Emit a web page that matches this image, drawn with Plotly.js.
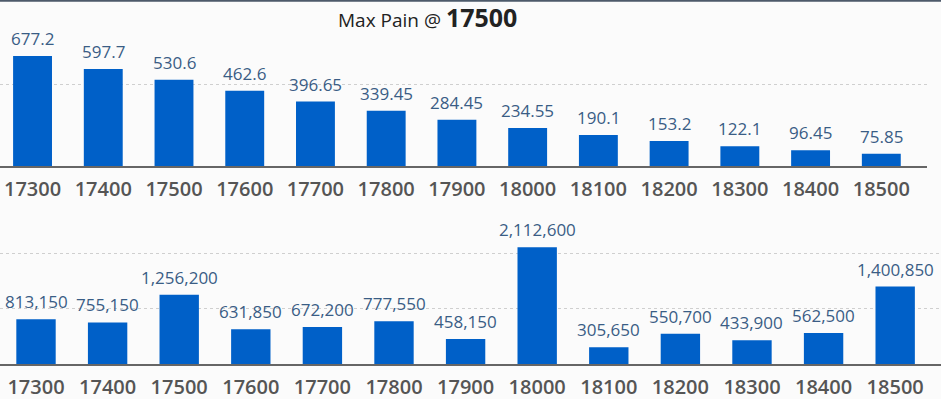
<!DOCTYPE html>
<html>
<head>
<meta charset="utf-8">
<script src="https://cdn.plot.ly/plotly-3.0.1.min.js"></script>
<style>
html,body{margin:0;padding:0;background:#fbfbfb;}
#chart{width:941px;height:399px;}
</style>
</head>
<body>
<div id="chart"></div>
<script>
const strikes = ["17300","17400","17500","17600","17700","17800","17900","18000","18100","18200","18300","18400","18500"];
const painValues = [677.2, 597.7, 530.6, 462.6, 396.65, 339.45, 284.45, 234.55, 190.1, 153.2, 122.1, 96.45, 75.85];
const painLabels = ["677.2","597.7","530.6","462.6","396.65","339.45","284.45","234.55","190.1","153.2","122.1","96.45","75.85"];
const oiValues = [813150, 755150, 1256200, 631850, 672200, 777550, 458150, 2112600, 305650, 550700, 433900, 562500, 1400850];
const maxPainStrike = "17500";

const barColor = '#0060c8';
const valueColor = '#3a5d85';
const tickColor = '#555555';
const fontFam = '"Open Sans", "Noto Sans", sans-serif';

function fmt(v){ return v.toLocaleString('en-US'); }

const traces = [
  {type:'bar', x: strikes, y: painValues, xaxis:'x', yaxis:'y', marker:{color:barColor}, hoverinfo:'none'},
  {type:'bar', x: strikes, y: oiValues, xaxis:'x2', yaxis:'y2', marker:{color:barColor}, hoverinfo:'none'}
];

const annotations = [];
strikes.forEach((s,i)=>{
  annotations.push({x:i, y:painValues[i], xref:'x', yref:'y', text:painLabels[i], showarrow:false,
    yanchor:'bottom', yshift:4, font:{family:fontFam, size:17, color:valueColor}});
  annotations.push({x:i, y:oiValues[i], xref:'x2', yref:'y2', text:fmt(oiValues[i]), showarrow:false,
    yanchor:'bottom', yshift:4, font:{family:fontFam, size:17, color:valueColor}});
});
annotations.push({
  text:'Max Pain @ <b><span style="font-size:25px">' + maxPainStrike + '</span></b>',
  font:{family:fontFam, size:19, color:'#222222'}, showarrow:false,
  xref:'paper', yref:'paper', x:427/941, xanchor:'center', y:1 - 17/399, yanchor:'middle'
});

const axisCommon = {
  type:'category', showgrid:false, zeroline:false, showline:true, linecolor:'#666666', linewidth:2,
  ticks:'', ticklabelstandoff:4, tickfont:{family:fontFam, size:20, color:tickColor, weight:600}, fixedrange:true
};

const layout = {
  width:941, height:399,
  margin:{l:0, r:0, t:0, b:0, pad:0},
  paper_bgcolor:'#fbfbfb', plot_bgcolor:'#fbfbfb',
  showlegend:false,
  bargap:0.45,
  font:{family:fontFam},
  xaxis: Object.assign({}, axisCommon, {domain:[0, 927/941], range:[-0.46, 12.646], anchor:'y'}),
  yaxis: {domain:[(399-166)/399, 1], range:[0, 1022], showticklabels:false, ticks:'', zeroline:false,
          showline:false, showgrid:true, gridcolor:'#cfcfcf', griddash:'dot', gridwidth:1,
          tickvals:[500], fixedrange:true},
  xaxis2: Object.assign({}, axisCommon, {domain:[0, 1], range:[-0.503, 12.64], anchor:'y2'}),
  yaxis2: {domain:[(399-364.3)/399, (399-209)/399], range:[0, 2800000], showticklabels:false, ticks:'',
           zeroline:false, showline:false, showgrid:true, gridcolor:'#cfcfcf', griddash:'dot', gridwidth:1,
           tickvals:[1000000, 2000000], fixedrange:true},
  annotations: annotations,
  shapes:[{type:'line', xref:'paper', yref:'paper', x0:0, x1:1, y0:1-0.8/399, y1:1-0.8/399,
           line:{color:'#4d5a6a', width:2}}]
};

Plotly.newPlot('chart', traces, layout, {displayModeBar:false, staticPlot:true});
</script>
</body>
</html>
